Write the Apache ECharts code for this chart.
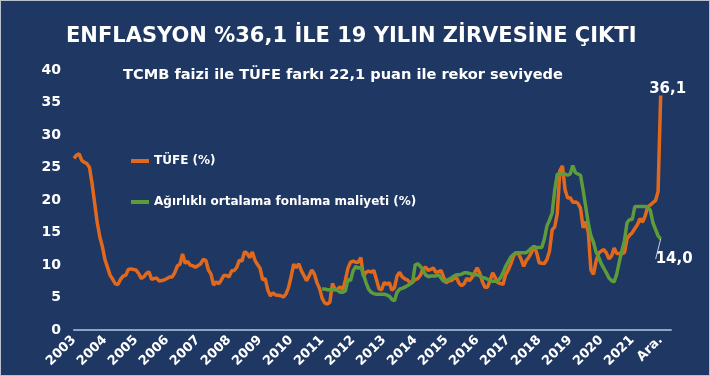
<!DOCTYPE html>
<html><head><meta charset="utf-8">
<script src="https://cdn.jsdelivr.net/npm/echarts@6/dist/echarts.min.js"></script>
<style>
html,body{margin:0;padding:0;background:#1f3763;}
#c{width:710px;height:376px;box-sizing:border-box;border:1px solid #b9c1cc;}
</style></head>
<body><div id="c"></div>
<script>
// ---- data ----
var startYear = 2003;
var yearLabels = ['2003','2004','2005','2006','2007','2008','2009','2010','2011','2012','2013','2014','2015','2016','2017','2018','2019','2020','2021','Ara.'];
var seriesNames = ['TÜFE (%)', 'Ağırlıklı ortalama fonlama maliyeti (%)'];
// TÜFE, monthly, Jan 2003 - Dec 2021
var tufe = [
 26.4,26.9,27.1,26.1,25.8,25.6,25.0,22.5,19.5,16.5,14.3,12.8,
 10.8,9.6,8.4,7.8,7.1,7.0,7.8,8.3,8.4,9.3,9.4,9.3,
 9.24,8.69,7.94,8.18,8.70,8.95,7.82,7.91,7.99,7.52,7.61,7.72,
 7.93,8.15,8.16,8.83,9.86,10.12,11.69,10.26,10.55,9.98,9.86,9.65,
 9.93,10.16,10.86,10.72,9.23,8.60,6.90,7.39,7.12,7.70,8.40,8.39,
 8.17,9.10,9.15,9.66,10.74,10.61,12.06,11.77,11.13,11.99,10.76,10.06,
 9.50,7.73,7.89,6.13,5.24,5.73,5.39,5.33,5.27,5.08,5.53,6.53,
 8.19,10.13,9.56,10.19,9.10,8.37,7.58,8.33,9.24,8.62,7.29,6.40,
 4.90,4.16,3.99,4.26,7.17,6.24,6.31,6.65,6.15,7.66,9.48,10.45,
 10.61,10.43,10.43,11.14,8.28,8.87,9.07,8.88,9.19,7.80,6.37,6.16,
 7.31,7.03,7.29,6.13,6.51,8.30,8.88,8.17,7.88,7.71,7.32,7.40,
 7.75,7.89,8.39,9.38,9.66,9.16,9.32,9.54,8.86,8.96,9.15,8.17,
 7.24,7.55,7.61,7.91,8.09,7.20,6.81,7.14,7.95,7.58,8.10,8.81,
 9.58,8.78,7.46,6.57,6.58,7.64,8.79,8.05,7.28,7.16,7.00,8.53,
 9.22,10.13,11.29,11.87,11.72,10.90,9.79,10.68,11.20,11.90,12.98,11.92,
 10.35,10.26,10.23,10.85,12.15,15.39,15.85,17.90,24.52,25.24,21.62,20.30,
 20.35,19.67,19.71,19.50,18.71,15.72,16.65,15.01,9.26,8.55,10.56,11.84,
 12.15,12.37,11.86,10.94,11.39,12.62,11.76,11.77,11.75,11.89,14.03,14.60,
 14.97,15.61,16.19,17.14,16.59,17.53,18.95,19.25,19.58,19.89,21.31,36.08
];
// Weighted average funding cost, monthly, Jan 2011 - Dec 2021
var fundingStartYear = 2011;
var funding = [
 6.3,6.3,6.2,6.2,6.2,6.2,6.1,5.8,5.8,6.0,7.8,7.6,
 9.1,9.8,9.5,9.7,8.5,7.3,6.3,5.8,5.6,5.5,5.5,5.5,
 5.5,5.4,5.2,4.7,4.5,5.8,6.3,6.4,6.6,6.8,7.1,7.3,
 10.0,10.2,9.8,9.3,8.5,8.2,8.3,8.3,8.3,8.5,8.0,7.5,
 7.6,7.8,8.0,8.3,8.5,8.5,8.6,8.8,8.8,8.7,8.6,8.5,
 8.5,8.3,8.1,8.0,7.8,7.6,7.5,7.5,7.6,8.0,8.8,9.8,
 10.5,11.2,11.6,11.9,11.9,11.9,11.9,11.9,12.2,12.6,12.6,12.7,
 12.7,12.7,14.0,16.0,16.9,18.0,21.5,24.0,24.0,24.0,24.0,23.8,
 24.0,25.3,24.2,24.0,23.8,21.5,19.0,16.4,14.5,13.5,12.0,11.2,
 10.2,9.5,8.8,8.0,7.6,7.4,8.6,10.5,12.2,13.8,16.5,17.0,
 17.0,19.0,19.0,19.0,19.0,19.0,18.9,18.4,16.5,15.5,14.5,14.0
];
var extraMonths = 4; // empty space after the last month on the axis

// ---- build ----
var months = [];
for (var i = 0; i < tufe.length + extraMonths; i++) {
  months.push((startYear + Math.floor(i / 12)) + '-' + ((i % 12) + 1));
}
var lastIdx = tufe.length - 1;
function fmt(v){ return v.toFixed(1).replace('.', ','); }
var endLabel = {color: '#ffffff', fontWeight: 'bold', fontSize: 15, fontFamily: 'DejaVu Sans'};

var tufeData = tufe.map(function(v, i){
  if (i === lastIdx) return {value: v, label: Object.assign({show: true, position: 'top', offset: [7, 4], distance: 3,
      formatter: function(p){ return fmt(p.value); }}, endLabel)};
  return v;
});
var fundOffset = (fundingStartYear - startYear) * 12;
var fundData = [];
for (var k = 0; k < fundOffset; k++) fundData.push(null);
funding.forEach(function(v, i){
  if (i === funding.length - 1) {
    fundData.push({value: v, label: Object.assign({show: true, position: 'right', distance: 2,
      formatter: function(p){ return fmt(p.value); }}, endLabel),
      labelLine: {show: true, lineStyle: {color: '#c9d2de', width: 1}}});
  } else fundData.push(v);
});

var chart = echarts.init(document.getElementById('c'), null, {renderer: 'canvas'});
chart.setOption({
  backgroundColor: '#1f3763',
  animation: false,
  textStyle: {fontFamily: 'DejaVu Sans'},
  title: [{
    text: 'ENFLASYON %36,1 İLE 19 YILIN ZİRVESİNE ÇIKTI',
    left: 65, top: 25, padding: 0,
    textStyle: {color: '#ffffff', fontSize: 21, fontWeight: 'bold', fontFamily: 'DejaVu Sans'}
  }, {
    text: 'TCMB faizi ile TÜFE farkı 22,1 puan ile rekor seviyede',
    left: 122, top: 67, padding: 0,
    textStyle: {color: '#ffffff', fontSize: 14.6, fontWeight: 'bold', fontFamily: 'DejaVu Sans'}
  }],
  legend: {
    orient: 'vertical', left: 125, top: 148, itemGap: 27,
    itemWidth: 18, itemHeight: 4, icon: 'rect',
    data: seriesNames,
    textStyle: {color: '#ffffff', fontSize: 12, fontWeight: 'bold', lineHeight: 14, fontFamily: 'DejaVu Sans'}
  },
  grid: {left: 73, right: 38, top: 69, bottom: 45, containLabel: false},
  xAxis: {
    type: 'category', data: months, boundaryGap: false,
    axisLine: {lineStyle: {color: '#8fa3c2', width: 2}},
    axisTick: {show: false},
    axisLabel: {
      rotate: 45, margin: 8, color: '#ffffff', fontWeight: 'bold', fontSize: 13, fontFamily: 'DejaVu Sans',
      interval: function(idx){ return idx % 12 === 0 && idx < lastIdx - 6 || idx === lastIdx; },
      formatter: function(v, idx){
        if (idx === lastIdx) return yearLabels[yearLabels.length - 1];
        if (idx % 12 === 0) return yearLabels[idx / 12];
        return '';
      }
    },
    splitLine: {show: false}
  },
  yAxis: {
    type: 'value', min: 0, max: 40, interval: 5,
    axisLine: {show: false}, axisTick: {show: false}, splitLine: {show: false},
    axisLabel: {color: '#ffffff', fontWeight: 'bold', fontSize: 14, margin: 13, fontFamily: 'DejaVu Sans'}
  },
  series: [{
    name: seriesNames[0], type: 'line', data: tufeData,
    symbol: 'circle', symbolSize: 0, showSymbol: true, showAllSymbol: true,
    lineStyle: {color: '#e2691c', width: 3.5}, itemStyle: {color: '#e2691c'}, z: 2
  }, {
    name: seriesNames[1], type: 'line', data: fundData,
    symbol: 'circle', symbolSize: 0, showSymbol: true, showAllSymbol: true,
    lineStyle: {color: '#5e9b3b', width: 3.5}, itemStyle: {color: '#5e9b3b'}, z: 3,
    labelLayout: function(){ return {dx: -7, dy: 20}; }
  }]
});
</script></body></html>
